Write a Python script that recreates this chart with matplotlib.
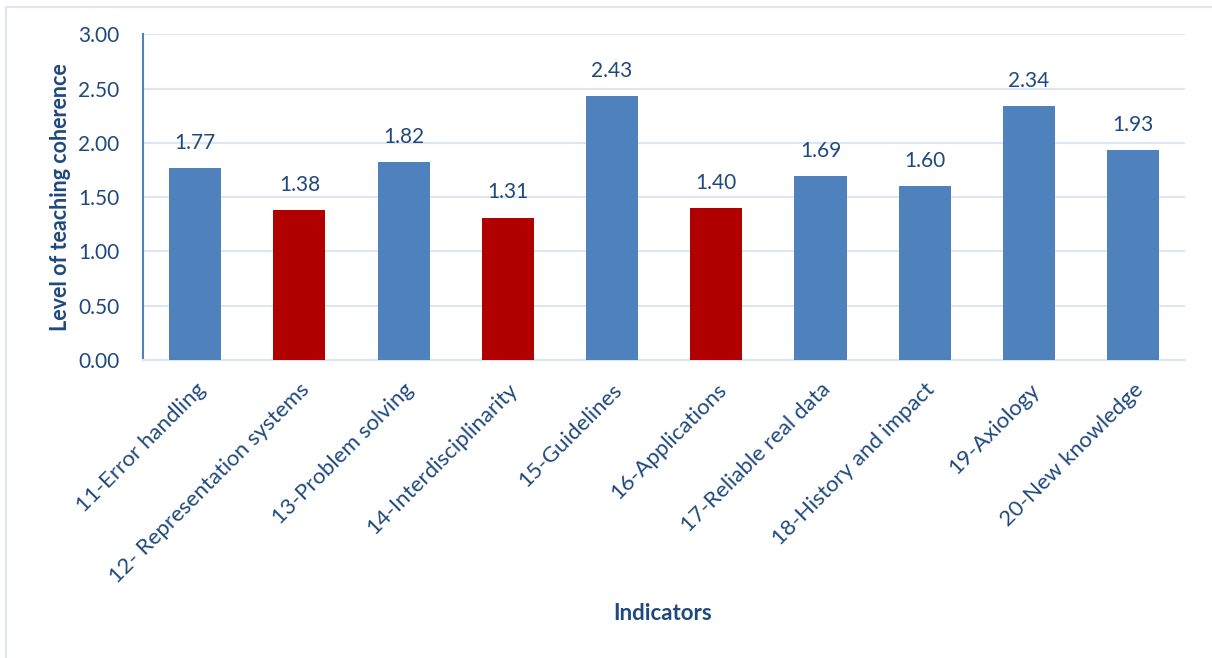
import matplotlib.pyplot as plt
import matplotlib.patches as mpatches

# indicators and their coherence scores
indicators = ['11-Error handling', '12- Representation systems', '13-Problem solving',
              '14-Interdisciplinarity', '15-Guidelines', '16-Applications',
              '17-Reliable real data', '18-History and impact', '19-Axiology',
              '20-New knowledge']
scores = [1.77, 1.38, 1.82, 1.31, 2.43, 1.40, 1.69, 1.60, 2.34, 1.93]
low_flag = [False, True, False, True, False, True, False, False, False, False]

BLUE = '#4F81BD'
RED = '#B00000'
TXT = '#1F497D'
GRID = '#DCE6F2'

plt.rcParams['font.family'] = ['Lato', 'DejaVu Sans']

fig = plt.figure(figsize=(12.12, 6.58), dpi=100)
ax = fig.add_axes([0.118, 0.453, 0.860, 0.495])

# light frame around the whole chart
fig.patches.append(mpatches.Rectangle((0.005, -0.01), 1.2, 1.0, transform=fig.transFigure,
                                      fill=False, edgecolor=GRID, linewidth=1.5))

x = range(len(indicators))
colors = [RED if f else BLUE for f in low_flag]
bars = ax.bar(x, scores, width=0.5, color=colors, zorder=3)

for b, v in zip(bars, scores):
    ax.text(b.get_x() + b.get_width() / 2, v + 0.14, f'{v:.2f}', ha='center', va='bottom',
            fontsize=15, color=TXT)

ax.set_xlim(-0.5, len(indicators) - 0.5)
ax.set_ylim(0, 3)
ax.set_yticks([0, 0.5, 1, 1.5, 2, 2.5, 3])
ax.set_yticklabels([f'{t:.2f}' for t in ax.get_yticks()], fontsize=15, color=TXT)
ax.set_xticks(list(x))
ax.set_xticklabels(indicators, rotation=45, ha='right', rotation_mode='anchor',
                   fontsize=16, color=TXT)
ax.tick_params(axis='both', length=0)
ax.tick_params(axis='y', pad=17)
ax.tick_params(axis='x', pad=14)

ax.grid(axis='y', color=GRID, linewidth=1.5, zorder=0)
for s in ['top', 'right']:
    ax.spines[s].set_visible(False)
ax.spines['left'].set_color(BLUE)
ax.spines['left'].set_linewidth(1.5)
ax.spines['bottom'].set_color(GRID)
ax.spines['bottom'].set_linewidth(1.5)

ax.set_ylabel('Level of teaching coherence', fontsize=15.5, fontweight='bold', color=TXT,
              labelpad=5)
fig.text(0.547, 0.068, 'Indicators', ha='center', va='center', fontsize=16,
         fontweight='bold', color=TXT)

fig.savefig('out.png', dpi=100, facecolor='white')
